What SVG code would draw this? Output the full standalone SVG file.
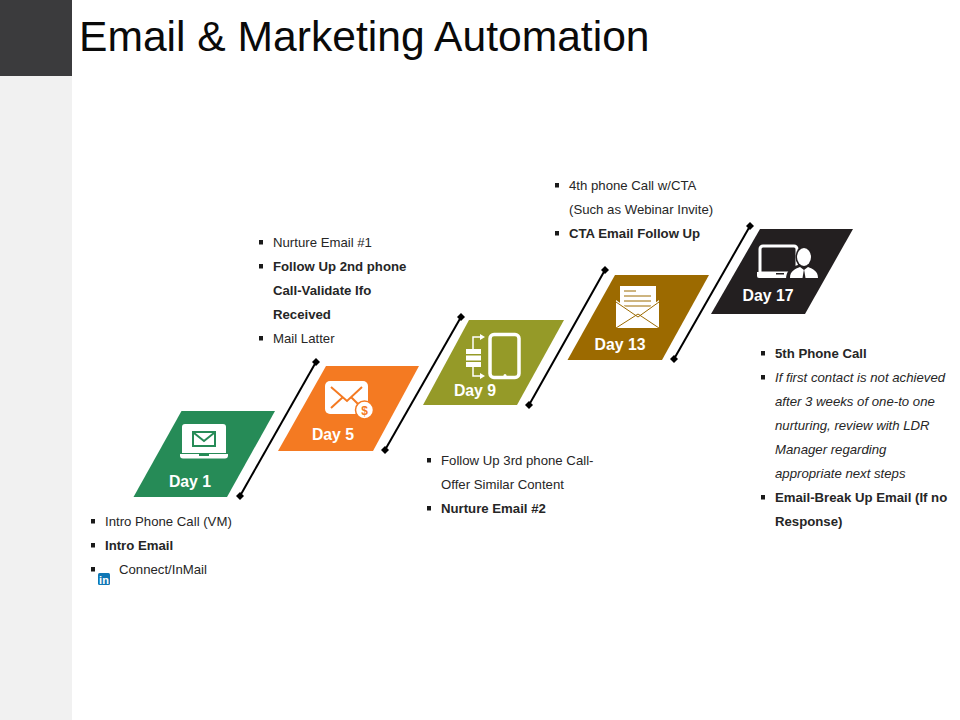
<svg xmlns="http://www.w3.org/2000/svg" width="960" height="720" viewBox="0 0 960 720">
<style>
text{font-family:"Liberation Sans",Arial,sans-serif;font-size:13.2px;fill:#262626}
.b{font-weight:700}
.i{font-style:italic}
.d{font-size:15.8px;font-weight:700;fill:#fff;text-anchor:middle}
.w{fill:#fff}
.conn{stroke:#000;stroke-width:2;fill:none;marker-start:url(#dot);marker-end:url(#dot)}
</style>
<defs>
<marker id="dot" markerUnits="userSpaceOnUse" markerWidth="8" markerHeight="8" refX="4" refY="4"><path d="M4 0 8 4 4 8 0 4Z" fill="#000"/></marker>
<rect id="sq" width="4" height="4.500" fill="#1a1a1a"/>
</defs>
<rect width="960" height="720" fill="#fff"/>
<rect x="0" y="76" width="72" height="644" fill="#f1f1f1"/>
<rect x="0" y="0" width="72" height="76" fill="#3b3b3d"/>
<text x="79" y="51" style="font-size:42.600px;fill:#0a0a0a">Email &amp; Marketing Automation</text>

<g id="connectors">
<path class="conn" d="M240 496 316 362"/>
<path class="conn" d="M385 450 461 317"/>
<path class="conn" d="M529 405 605 270"/>
<path class="conn" d="M674 359 750 226"/>
</g>

<g id="day1">
<path d="M181.500 411H275L227 497H133.500Z" fill="#268b57"/>
<path class="w" d="M185 424h38a3 3 0 0 1 3 3v26h-44v-26a3 3 0 0 1 3-3Z"/>
<path class="w" d="M180 454h48v1.500a3 3 0 0 1-3 3h-42a3 3 0 0 1-3-3Z"/>
<rect x="193" y="432" width="22" height="14" fill="none" stroke="#268b57" stroke-width="2"/>
<path d="M194 433 204 441 214 433" fill="none" stroke="#268b57" stroke-width="2"/>
<rect x="199" y="454" width="10" height="2" fill="#268b57"/>
<text class="d" x="190" y="487">Day 1</text>
</g>

<g id="day5">
<path d="M326 366H419L373 451H278Z" fill="#f47a22"/>
<rect class="w" x="325" y="381" width="43" height="33" rx="5"/>
<path d="M331 387 347 401 362 387M331 408 343 397M362 408 351 397" fill="none" stroke="#f47a22" stroke-width="2"/>
<circle cx="364.500" cy="410" r="9" fill="#fff" stroke="#f47a22" stroke-width="1.500"/>
<text x="364.500" y="414.500" style="font-size:12px;font-weight:700;fill:#f47a22;text-anchor:middle">$</text>
<text class="d" x="333" y="440">Day 5</text>
</g>

<g id="day9">
<path d="M469 320H564L517 405H423Z" fill="#959a28"/>
<rect x="490" y="334.500" width="29" height="43" rx="4" fill="none" stroke="#fff" stroke-width="3.500"/>
<circle class="w" cx="505" cy="375.500" r="1.500"/>
<g class="w">
<rect x="466" y="349" width="15" height="5"/>
<rect x="466" y="355.500" width="15" height="5"/>
<rect x="466" y="362" width="15" height="5"/>
</g>
<path d="M473 349V337H481M473 367V376H481" fill="none" stroke="#fff" stroke-width="1.500"/>
<path class="w" d="M480 334 485 337 480 340ZM480 373 485 376 480 379Z"/>
<text class="d" x="475" y="396">Day 9</text>
</g>

<g id="day13">
<path d="M615 275H709L662 360H567.500Z" fill="#9c6a00"/>
<rect class="w" x="620" y="286" width="36" height="34"/>
<path d="M624 291H636M624 296H651M624 301H651M624 306H651" stroke="#9c6a00" stroke-width="1" fill="none"/>
<path class="w" d="M616 300 638 316 659 300V328H616Z"/>
<path d="M616 328 638 314 659 328M616 302 638 317 659 302" fill="none" stroke="#9c6a00" stroke-width="1"/>
<text class="d" x="620" y="350">Day 13</text>
</g>

<g id="day17">
<path d="M760 229H853L805 314H711Z" fill="#231f20"/>
<path d="M763 246h31a3 3 0 0 1 3 3v24h-37v-24a3 3 0 0 1 3-3Z" fill="none" stroke="#fff" stroke-width="3"/>
<path class="w" d="M757 272h33v6h-31a2 2 0 0 1-2-2Z"/>
<ellipse cx="804" cy="257" rx="8.500" ry="11" fill="#231f20"/>
<path d="M786 279c0-8 5-12 12-14h12c6 2 11 6 11 14Z" fill="#231f20"/>
<ellipse class="w" cx="804" cy="257" rx="7" ry="9"/>
<path class="w" d="M790 278c0-7 5-9 10-11l4 3 4-3c5 2 10 4 10 11Z"/>
<path d="M804 269 802.500 278H805.500Z" fill="#231f20"/>
<rect x="776" y="273" width="8" height="1.500" fill="#231f20"/>
<text class="d" x="768" y="301">Day 17</text>
</g>

<g id="notes-day1">
<use href="#sq" x="91" y="519"/>
<text x="105" y="526">Intro Phone Call (VM)</text>
<use href="#sq" x="91" y="543"/>
<text class="b" x="105" y="550">Intro Email</text>
<use href="#sq" x="91" y="567"/>
<text x="119" y="574">Connect/InMail</text>
<rect x="98" y="573" width="12" height="12" rx="1.500" fill="#0f77b5"/>
<text x="104" y="583.500" style="font-size:11px;font-weight:700;fill:#fff;text-anchor:middle">in</text>
</g>

<g id="notes-day5">
<use href="#sq" x="259" y="240"/>
<text x="273" y="247">Nurture Email #1</text>
<use href="#sq" x="259" y="264"/>
<text class="b" x="273" y="271">Follow Up 2nd phone</text>
<text class="b" x="273" y="295">Call-Validate Ifo</text>
<text class="b" x="273" y="319">Received</text>
<use href="#sq" x="259" y="336"/>
<text x="273" y="343">Mail Latter</text>
</g>

<g id="notes-day9">
<use href="#sq" x="427" y="458"/>
<text x="441" y="465">Follow Up 3rd phone Call-</text>
<text x="441" y="489">Offer Similar Content</text>
<use href="#sq" x="427" y="506"/>
<text class="b" x="441" y="513">Nurture Email #2</text>
</g>

<g id="notes-day13">
<use href="#sq" x="555" y="183"/>
<text x="569" y="190">4th phone Call w/CTA</text>
<text x="569" y="214">(Such as Webinar Invite)</text>
<use href="#sq" x="555" y="231"/>
<text class="b" x="569" y="238">CTA Email Follow Up</text>
</g>

<g id="notes-day17">
<use href="#sq" x="761" y="351"/>
<text class="b" x="775" y="358">5th Phone Call</text>
<use href="#sq" x="761" y="375"/>
<text class="i" x="775" y="382">If first contact is not achieved</text>
<text class="i" x="775" y="406">after 3 weeks of one-to one</text>
<text class="i" x="775" y="430">nurturing, review with LDR</text>
<text class="i" x="775" y="454">Manager regarding</text>
<text class="i" x="775" y="478">appropriate next steps</text>
<use href="#sq" x="761" y="495"/>
<text class="b" x="775" y="502">Email-Break Up Email (If no</text>
<text class="b" x="775" y="526">Response)</text>
</g>
</svg>
